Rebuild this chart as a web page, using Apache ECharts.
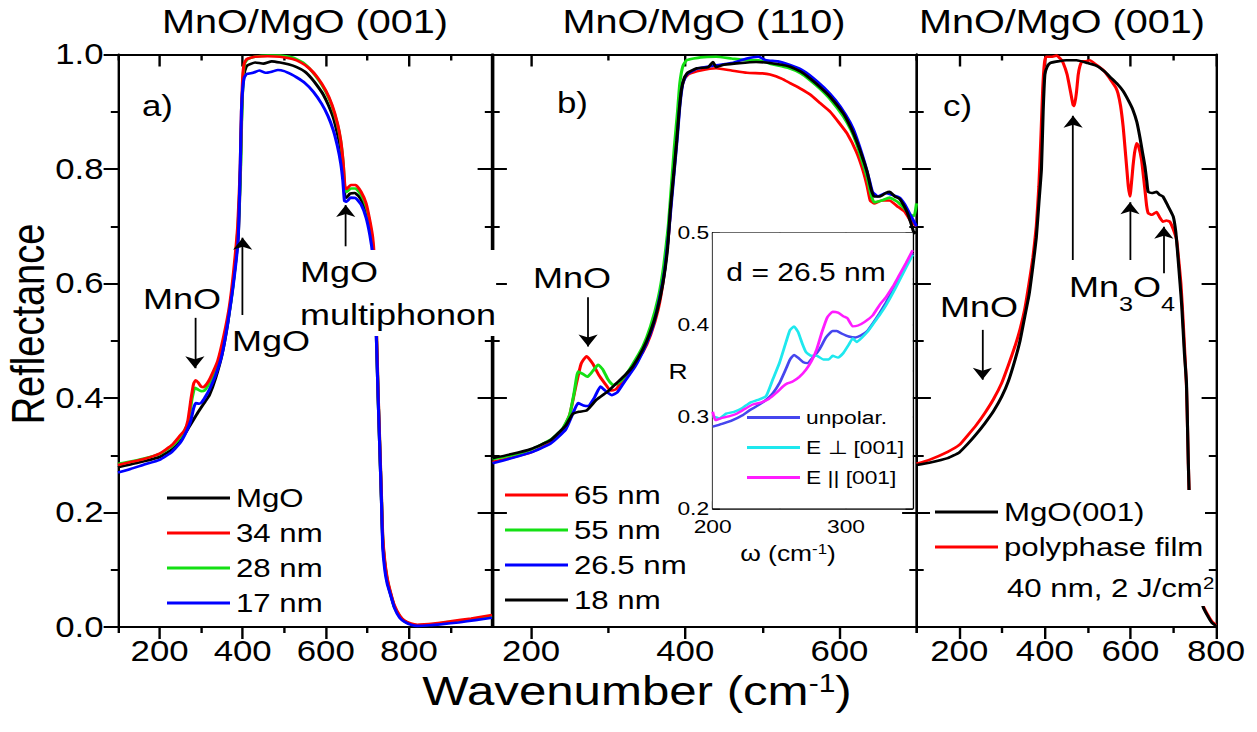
<!DOCTYPE html>
<html>
<head>
<meta charset="utf-8">
<script src="https://cdn.jsdelivr.net/npm/echarts@6/dist/echarts.min.js"></script>
<style>
  html, body { margin: 0; padding: 0; background: #fff; overflow: hidden; }
  #wrap { width: 1257px; height: 732px; overflow: hidden; }
  /* the figure is laid out in a narrower frame and widened horizontally */
  #chart { width: 1047.5px; height: 732px; transform: scaleX(1.2); transform-origin: 0 0; }
</style>
</head>
<body>
<div id="wrap"><div id="chart"></div></div>
<script>
// ---------- tick values ----------
const yTicks = [0, 0.2, 0.4, 0.6, 0.8, 1.0];
const xMajorA = [200, 400, 600, 800];
const xMinorA = [100, 300, 500, 700, 900];
const xMajorB = [200, 400, 600];
const xMinorB = [300, 500, 700];
const xMajorC = [200, 400, 600, 800];
const xMinorC = [100, 300, 500, 700];
const xMajorIn = [200, 300];
const xMinorIn = [250];

// ---------- panel a: MnO/MgO (001), reflectance vs wavenumber ----------
const a_MgO = [[100,0.279],[130,0.284],[160,0.289],[200,0.297],[230,0.31],[250,0.325],[270,0.348],[290,0.372],[310,0.394],[320,0.405],[335,0.435],[350,0.475],[365,0.535],[377,0.6],[389,0.68],[394,0.78],[397,0.88],[400,0.94],[404,0.968],[410,0.98],[430,0.986],[450,0.984],[470,0.988],[490,0.986],[510,0.983],[530,0.978],[550,0.97],[565,0.959],[580,0.945],[594,0.93],[606,0.912],[618,0.89],[628,0.862],[636,0.835],[642,0.795],[646,0.752],[650,0.75],[658,0.757],[670,0.758],[680,0.752],[690,0.74],[700,0.722],[708,0.69],[714,0.655],[718,0.6],[722,0.5],[726,0.4],[730,0.31],[734,0.22],[737,0.15],[742,0.11],[748,0.08],[755,0.06],[765,0.035],[778,0.018],[790,0.01],[805,0.005],[820,0.003],[840,0.003],[860,0.004],[880,0.006],[900,0.008],[930,0.011],[960,0.014],[1000,0.018]];
const a_34nm = [[100,0.283],[130,0.288],[160,0.293],[200,0.303],[230,0.318],[250,0.335],[260,0.343],[268,0.36],[276,0.4],[282,0.425],[287,0.431],[293,0.427],[300,0.42],[306,0.419],[314,0.425],[322,0.435],[340,0.465],[355,0.51],[368,0.56],[378,0.62],[388,0.7],[394,0.8],[397,0.9],[400,0.96],[404,0.985],[410,0.992],[430,0.996],[460,0.997],[490,0.996],[520,0.992],[540,0.986],[560,0.976],[580,0.96],[600,0.937],[615,0.912],[628,0.88],[636,0.85],[642,0.81],[646,0.77],[650,0.765],[660,0.772],[672,0.772],[685,0.76],[697,0.74],[706,0.71],[713,0.68],[717,0.64],[722,0.52],[726,0.41],[730,0.32],[734,0.23],[737,0.16],[742,0.115],[748,0.085],[755,0.063],[765,0.038],[778,0.02],[790,0.011],[805,0.006],[820,0.004],[860,0.006],[900,0.01],[950,0.015],[1000,0.021]];
const a_28nm = [[100,0.285],[130,0.289],[160,0.294],[200,0.302],[230,0.316],[250,0.332],[262,0.346],[270,0.36],[278,0.398],[285,0.418],[292,0.415],[300,0.412],[308,0.413],[316,0.421],[330,0.44],[345,0.47],[360,0.52],[372,0.57],[380,0.62],[389,0.7],[395,0.8],[398,0.9],[401,0.96],[405,0.985],[412,0.992],[430,0.996],[460,0.998],[490,0.998],[520,0.995],[545,0.986],[565,0.972],[585,0.953],[600,0.935],[615,0.91],[628,0.878],[636,0.848],[642,0.81],[646,0.765],[650,0.76],[660,0.766],[672,0.766],[685,0.755],[697,0.735],[706,0.705],[713,0.67],[718,0.62],[722,0.51],[726,0.405],[730,0.315],[734,0.225],[737,0.155],[742,0.112],[748,0.082],[755,0.061],[765,0.036],[778,0.019],[790,0.01],[805,0.005],[820,0.003],[860,0.005],[900,0.009],[950,0.013],[1000,0.019]];
const a_17nm = [[100,0.27],[130,0.276],[160,0.283],[200,0.292],[230,0.306],[250,0.322],[265,0.342],[275,0.36],[282,0.382],[287,0.391],[295,0.39],[302,0.393],[310,0.402],[320,0.415],[335,0.44],[350,0.475],[365,0.535],[377,0.595],[389,0.676],[394,0.8],[397,0.9],[400,0.94],[404,0.96],[410,0.966],[425,0.968],[440,0.972],[455,0.968],[470,0.97],[485,0.973],[500,0.971],[515,0.966],[530,0.96],[550,0.95],[570,0.935],[590,0.914],[605,0.893],[618,0.868],[628,0.84],[636,0.81],[641,0.78],[645,0.744],[650,0.743],[660,0.75],[672,0.749],[685,0.738],[697,0.715],[706,0.685],[713,0.65],[718,0.6],[722,0.5],[726,0.4],[730,0.31],[734,0.22],[737,0.14],[742,0.1],[748,0.075],[755,0.058],[765,0.034],[778,0.016],[790,0.009],[805,0.004],[820,0.002],[850,0.003],[880,0.005],[920,0.008],[960,0.012],[1000,0.016]];

// ---------- panel b: MnO/MgO (110) ----------
const b_65nm = [[150,0.288],[175,0.296],[200,0.305],[225,0.322],[240,0.342],[250,0.37],[258,0.42],[265,0.46],[272,0.473],[280,0.46],[288,0.44],[296,0.425],[303,0.413],[310,0.415],[318,0.43],[330,0.452],[345,0.48],[355,0.51],[365,0.555],[372,0.61],[378,0.68],[382,0.75],[386,0.82],[390,0.88],[394,0.935],[399,0.958],[405,0.966],[420,0.972],[440,0.976],[460,0.972],[480,0.968],[500,0.967],[510,0.965],[525,0.958],[536,0.95],[550,0.94],[562,0.93],[575,0.915],[588,0.9],[600,0.88],[610,0.862],[622,0.83],[630,0.8],[636,0.77],[640,0.745],[645,0.74],[655,0.745],[665,0.745],[675,0.735],[685,0.725],[692,0.71],[700,0.7]];
const b_55nm = [[150,0.293],[175,0.3],[200,0.31],[225,0.327],[240,0.345],[250,0.37],[256,0.41],[261,0.446],[267,0.442],[273,0.437],[280,0.447],[287,0.458],[293,0.45],[300,0.432],[306,0.423],[312,0.425],[320,0.435],[330,0.455],[345,0.49],[355,0.525],[365,0.575],[372,0.63],[378,0.7],[382,0.77],[386,0.84],[390,0.9],[393,0.95],[397,0.98],[402,0.99],[420,0.995],[440,0.996],[460,0.993],[480,0.99],[495,0.99],[510,0.984],[535,0.976],[550,0.967],[562,0.955],[575,0.94],[588,0.922],[605,0.892],[615,0.868],[622,0.845],[630,0.812],[636,0.785],[641,0.755],[645,0.742],[655,0.745],[665,0.75],[675,0.743],[685,0.73],[692,0.72],[697,0.718],[700,0.74]];
const b_26nm = [[150,0.286],[175,0.295],[200,0.305],[225,0.32],[245,0.345],[254,0.372],[261,0.391],[268,0.387],[274,0.386],[282,0.4],[290,0.42],[297,0.412],[305,0.405],[312,0.41],[322,0.43],[335,0.455],[348,0.49],[358,0.525],[366,0.57],[373,0.62],[378,0.68],[382,0.74],[386,0.8],[390,0.86],[393,0.91],[397,0.95],[402,0.965],[415,0.975],[435,0.98],[460,0.985],[480,0.993],[495,0.996],[505,0.99],[520,0.988],[535,0.982],[550,0.974],[565,0.96],[580,0.942],[595,0.92],[608,0.895],[618,0.87],[626,0.84],[633,0.81],[639,0.78],[643,0.76],[650,0.752],[660,0.758],[668,0.755],[678,0.75],[685,0.738],[692,0.72],[700,0.7]];
const b_18nm = [[150,0.295],[175,0.302],[200,0.311],[225,0.326],[245,0.352],[254,0.372],[262,0.376],[272,0.378],[285,0.397],[300,0.412],[311,0.426],[322,0.44],[332,0.455],[345,0.485],[354,0.513],[363,0.55],[371,0.6],[377,0.66],[381,0.734],[385,0.79],[389,0.85],[392,0.9],[395,0.938],[399,0.96],[403,0.968],[415,0.976],[430,0.978],[436,0.987],[440,0.978],[450,0.982],[470,0.985],[492,0.987],[510,0.985],[535,0.979],[550,0.97],[562,0.958],[575,0.943],[588,0.926],[605,0.897],[615,0.872],[622,0.85],[630,0.82],[636,0.795],[641,0.765],[645,0.752],[652,0.752],[660,0.758],[665,0.76],[672,0.752],[678,0.748],[682,0.74],[686,0.73],[690,0.717],[694,0.7],[697,0.688],[700,0.69]];

// ---------- inset: d = 26.5 nm, polarisation ----------
const in_unpol = [[200,0.289],[207,0.292],[215,0.296],[222,0.301],[228,0.307],[234,0.312],[240,0.318],[245,0.325],[250,0.336],[255,0.352],[258,0.362],[261,0.367],[264,0.364],[268,0.359],[271,0.358],[275,0.364],[280,0.373],[285,0.386],[290,0.393],[293,0.393],[297,0.39],[302,0.387],[307,0.386],[311,0.388],[316,0.393],[320,0.401],[325,0.412],[330,0.424],[335,0.437],[340,0.45],[345,0.464],[350,0.478]];
const in_perp = [[200,0.3],[205,0.298],[210,0.303],[216,0.305],[222,0.309],[228,0.315],[234,0.318],[240,0.322],[245,0.34],[250,0.358],[255,0.381],[258,0.394],[261,0.398],[264,0.392],[267,0.38],[270,0.37],[274,0.366],[278,0.366],[283,0.362],[287,0.362],[290,0.366],[294,0.364],[298,0.369],[302,0.378],[305,0.385],[308,0.381],[312,0.386],[316,0.392],[320,0.4],[325,0.41],[330,0.421],[335,0.434],[340,0.448],[345,0.462],[350,0.476]];
const in_par = [[200,0.305],[202,0.296],[206,0.298],[212,0.3],[218,0.303],[224,0.308],[230,0.313],[236,0.315],[242,0.319],[248,0.326],[253,0.333],[256,0.336],[260,0.338],[265,0.343],[270,0.351],[274,0.36],[278,0.373],[282,0.392],[286,0.408],[290,0.414],[294,0.413],[298,0.409],[301,0.407],[305,0.398],[309,0.399],[314,0.403],[320,0.41],[325,0.421],[330,0.43],[335,0.441],[340,0.454],[345,0.467],[350,0.481]];

// ---------- panel c: MnO/MgO (001), polyphase film ----------
const c_MgO = [[100,0.283],[130,0.287],[173,0.295],[200,0.305],[220,0.32],[240,0.337],[260,0.356],[280,0.377],[299,0.402],[315,0.43],[330,0.466],[342,0.5],[353,0.542],[363,0.58],[372,0.63],[380,0.68],[386,0.74],[392,0.8],[396,0.9],[400,0.965],[405,0.978],[412,0.985],[430,0.988],[450,0.99],[474,0.99],[500,0.985],[521,0.98],[540,0.97],[552,0.961],[570,0.948],[583,0.936],[595,0.92],[606,0.903],[615,0.882],[622,0.856],[628,0.83],[634,0.804],[638,0.78],[641.5,0.76],[650,0.758],[661,0.76],[668,0.755],[676,0.752],[688,0.735],[700,0.717],[706,0.69],[711,0.647],[716,0.6],[720,0.56],[726,0.48],[731,0.426],[734,0.33],[737,0.24],[745,0.16],[755,0.1],[770,0.035],[780,0.02],[790,0.008],[800,0.002]];
const c_film = [[100,0.285],[130,0.292],[173,0.306],[200,0.318],[220,0.335],[240,0.353],[260,0.374],[280,0.398],[299,0.426],[315,0.458],[330,0.49],[342,0.52],[353,0.555],[363,0.6],[372,0.645],[380,0.7],[386,0.77],[391,0.86],[395,0.94],[399,0.985],[403,0.996],[415,0.996],[427,0.998],[437,0.992],[443,0.985],[452,0.965],[460,0.935],[466,0.912],[469,0.91],[474,0.935],[478,0.965],[482,0.98],[487,0.988],[495,0.988],[505,0.99],[520,0.982],[536,0.973],[548,0.962],[559,0.95],[566,0.942],[571,0.932],[577,0.91],[583,0.874],[587,0.84],[591,0.805],[595,0.77],[599,0.752],[603,0.78],[606,0.805],[610,0.83],[614.5,0.845],[619,0.84],[626,0.816],[630,0.79],[634,0.763],[638,0.735],[641.5,0.723],[650,0.72],[661,0.725],[668,0.716],[676,0.708],[684,0.71],[692,0.708],[700,0.695],[708,0.676],[713,0.64],[718,0.6],[722,0.55],[727,0.48],[731,0.42],[734,0.33],[737,0.24],[745,0.16],[755,0.1],[770,0.037],[780,0.022],[790,0.01],[800,0.003]];

// ---------- annotation arrows [x, tail R, head R] ----------
const arrowsA = [[285, 0.54, 0.452], [400, 0.545, 0.68], [648, 0.665, 0.737]];
const arrowsB = [[274, 0.576, 0.49]];
const arrowsC = [[254, 0.519, 0.432], [466, 0.641, 0.893], [599, 0.641, 0.742], [678, 0.618, 0.699]];

// ---------- layout helpers ----------
const S = 1.2;                      // horizontal widening of the frame
const X = px => px / S;             // final-pixel x -> frame x
const FONT = '"Liberation Sans", Arial, Helvetica, sans-serif';
const BLACK = '#000';

const chart = echarts.init(document.getElementById('chart'), null, { renderer: 'svg' });

function xAxes(gi, min, max, major, minor, o) {
  const line = { lineStyle: { color: BLACK, width: o.lw } };
  const tickStyle = { color: BLACK, width: o.lw };
  const common = { gridIndex: gi, type: 'value', min: min, max: max, splitLine: { show: false } };
  return [
    Object.assign({}, common, {
      position: 'bottom',
      axisLine: Object.assign({ show: true, onZero: false }, line),
      axisTick: { show: true, inside: o.inside, length: o.major, customValues: major, lineStyle: tickStyle },
      axisLabel: { show: true, customValues: major, margin: o.margin, fontSize: o.fs, color: BLACK, fontFamily: FONT }
    }),
    Object.assign({}, common, {
      position: 'bottom',
      axisLine: { show: false, onZero: false },
      axisTick: { show: true, inside: o.inside, length: o.minor, customValues: minor, lineStyle: tickStyle },
      axisLabel: { show: false }
    }),
    Object.assign({}, common, {
      position: 'top',
      axisLine: Object.assign({ show: true, onZero: false }, line),
      axisTick: { show: true, inside: true, length: o.major, customValues: major, lineStyle: tickStyle },
      axisLabel: { show: false }
    }),
    Object.assign({}, common, {
      position: 'top',
      axisLine: { show: false, onZero: false },
      axisTick: { show: true, inside: true, length: o.minor, customValues: minor, lineStyle: tickStyle },
      axisLabel: { show: false }
    })
  ];
}

function yAxes(gi, min, max, interval, o) {
  const line = { lineStyle: { color: BLACK, width: o.lw } };
  const tickStyle = { color: BLACK, width: o.lw };
  const common = { gridIndex: gi, type: 'value', min: min, max: max, interval: interval,
                   splitLine: { show: false }, minorSplitLine: { show: false } };
  return [
    Object.assign({}, common, {
      position: 'left',
      axisLine: Object.assign({ show: true, onZero: false }, line),
      axisTick: { show: true, inside: o.leftInside, length: o.major, lineStyle: tickStyle },
      minorTick: { show: true, splitNumber: 2, length: o.minor, lineStyle: tickStyle },
      axisLabel: { show: o.labels, margin: o.margin, fontSize: o.fs, color: BLACK, fontFamily: FONT,
                   formatter: v => v.toFixed(1) }
    }),
    Object.assign({}, common, {
      position: 'right',
      axisLine: Object.assign({ show: true, onZero: false }, line),
      axisTick: { show: true, inside: true, length: o.major, lineStyle: tickStyle },
      minorTick: { show: true, splitNumber: 2, length: o.minor, lineStyle: tickStyle },
      axisLabel: { show: false }
    })
  ];
}

const mainX = { lw: 2, inside: false, major: 12, minor: 6, margin: 10, fs: 29 };
const insetX = { lw: 1.5, inside: true, major: 7, minor: 7, margin: 8, fs: 19 };

const xAxis = [].concat(
  xAxes(0, 100, 1000, xMajorA, xMinorA, mainX),
  xAxes(1, 150, 700, xMajorB, xMinorB, mainX),
  xAxes(2, 100, 800, xMajorC, xMinorC, mainX),
  xAxes(3, 200, 350, xMajorIn, xMinorIn, insetX)
);
const yAxis = [].concat(
  yAxes(0, yTicks[0], yTicks[yTicks.length - 1], 0.2, { lw: 2, leftInside: false, major: 12, minor: 6, margin: 12, fs: 29, labels: true }),
  yAxes(1, 0, 1, 0.2, { lw: 2, leftInside: true, major: 12, minor: 6, margin: 12, fs: 29, labels: false }),
  yAxes(2, 0, 1, 0.2, { lw: 2, leftInside: true, major: 12, minor: 6, margin: 12, fs: 29, labels: false }),
  yAxes(3, 0.2, 0.5, 0.1, { lw: 1.5, leftInside: true, major: 6, minor: 6, margin: 3, fs: 19, labels: true })
);

function arrowLines(list) {
  return {
    silent: true,
    symbol: ['none', 'arrow'],
    symbolSize: 12,
    lineStyle: { color: BLACK, width: 1.5, type: 'solid' },
    label: { show: false },
    emphasis: { disabled: true },
    animation: false,
    data: list.map(a => [{ coord: [a[0], a[1]] }, { coord: [a[0], a[2]] }])
  };
}

function line(name, data, color, gi, width, extra) {
  return Object.assign({
    type: 'line', name: name, data: data,
    xAxisIndex: gi * 4, yAxisIndex: gi * 2,
    showSymbol: false, symbol: 'none', smooth: 0.15,
    lineStyle: { color: color, width: width },
    itemStyle: { color: color },
    emphasis: { disabled: true },
    animation: false, z: 2
  }, extra || {});
}

const RED = '#ff0000', GREEN = '#14e014', BLUE = '#0000ff';

const series = [
  line('MgO', a_MgO, BLACK, 0, 2.6, { markLine: arrowLines(arrowsA) }),
  line('28 nm', a_28nm, GREEN, 0, 2.6),
  line('34 nm', a_34nm, RED, 0, 2.6),
  line('17 nm', a_17nm, BLUE, 0, 2.6),

  line('65 nm', b_65nm, RED, 1, 2.6, { markLine: arrowLines(arrowsB) }),
  line('55 nm', b_55nm, GREEN, 1, 2.6),
  line('26.5 nm', b_26nm, BLUE, 1, 2.6),
  line('18 nm', b_18nm, BLACK, 1, 2.6),

  line('polyphase film', c_film, RED, 2, 2.6, { markLine: arrowLines(arrowsC) }),
  line('MgO(001)', c_MgO, BLACK, 2, 2.6),

  line('unpolar.', in_unpol, '#4646ee', 3, 2.4, { z: 6 }),
  line('E \u22A5 [001]', in_perp, '#1ee8ee', 3, 2.4, { z: 6 }),
  line('E || [001]', in_par, '#ff1cff', 3, 2.4, { z: 6 })
];

function legend(names, left, top, o) {
  return {
    data: names, orient: 'vertical', left: left, top: top, padding: 0,
    icon: 'rect', itemWidth: o.w, itemHeight: 3, itemGap: o.gap,
    selectedMode: false, z: 6,
    textStyle: { fontSize: o.fs, lineHeight: o.fs, color: BLACK, fontFamily: FONT }
  };
}

function txt(text, x, y, fs, extra, styleExtra) {
  return Object.assign({
    type: 'text', x: X(x), y: y, z: 8, silent: true,
    style: Object.assign({
      text: text, fill: BLACK, fontSize: fs, fontFamily: FONT,
      align: 'left', textAlign: 'left', verticalAlign: 'middle', textVerticalAlign: 'middle'
    }, styleExtra || {})
  }, extra || {});
}

const graphic = [
  // white box behind the panel c legend
  { type: 'rect', z: 3, silent: true, shape: { x: X(930), y: 490, width: X(275), height: 116 }, style: { fill: '#fff' } },

  // panel titles
  txt('MnO/MgO (001)', 305, 22, 33, null, { align: 'center', textAlign: 'center' }),
  txt('MnO/MgO (110)', 704, 22, 33, null, { align: 'center', textAlign: 'center' }),
  txt('MnO/MgO (001)', 1062, 22, 33, null, { align: 'center', textAlign: 'center' }),

  // axis titles
  txt('Reflectance', 28, 324, 38, { rotation: Math.PI / 2 }, { align: 'center', textAlign: 'center' }),
  txt('Wavenumber (cm{sup|-1})', 637, 691, 41, null, {
    align: 'center', textAlign: 'center',
    rich: { sup: { fontSize: 25, fontFamily: FONT, verticalAlign: 'top', lineHeight: 25 } }
  }),

  // panel letters
  txt('a)', 142, 106, 29),
  txt('b)', 557, 103, 29),
  txt('c)', 943, 106, 29),

  // panel a notes
  txt('MnO', 143, 299, 30),
  txt('MgO', 232, 341, 30, { z: 10 }),
  txt('MgO\nmultiphonon', 300, 250, 30, { z: 9 },
      { verticalAlign: 'top', textVerticalAlign: 'top', lineHeight: 43, backgroundColor: '#fff' }),

  // panel b notes
  txt('MnO', 533, 278, 30),

  // panel c notes: MnO, and Mn3O4 written as main glyphs with lowered indices
  txt('MnO', 940, 307, 30),
  txt('Mn', 1069, 287, 30),
  txt('3', 1119, 304, 21),
  txt('O', 1133, 287, 30),
  txt('4', 1161, 304, 21),
  txt('40 nm, 2 J/cm{sup|2}', 1007, 588, 26, { z: 8 }, {
    rich: { sup: { fontSize: 17, fontFamily: FONT, verticalAlign: 'top', lineHeight: 17 } }
  }),

  // inset texts
  txt('d = 26.5 nm', 806, 272, 25, null, { align: 'center', textAlign: 'center' }),
  txt('R', 678, 371, 22, null, { align: 'center', textAlign: 'center' }),
  txt('\u03C9 (cm{sup|-1})', 788, 553, 22, null, {
    align: 'center', textAlign: 'center',
    rich: { sup: { fontSize: 14, fontFamily: FONT, verticalAlign: 'top', lineHeight: 14 } }
  })
];

chart.setOption({
  backgroundColor: '#fff',
  animation: false,
  grid: [
    { left: X(118), top: 54.5, width: X(374), height: 572.5 },
    { left: X(492.5), top: 54.5, width: X(424), height: 572.5 },
    { left: X(916.5), top: 54.5, width: X(299.5), height: 572.5 },
    { left: X(712.7), top: 232.7, width: X(200), height: 275.6, show: true, backgroundColor: '#fff', borderWidth: 0, z: 3 }
  ],
  xAxis: xAxis,
  yAxis: yAxis,
  legend: [
    legend(['MgO', '34 nm', '28 nm', '17 nm'], X(167), 485, { w: X(63), gap: 9, fs: 26 }),
    legend(['65 nm', '55 nm', '26.5 nm', '18 nm'], X(505), 482, { w: X(63), gap: 9, fs: 26 }),
    legend(['MgO(001)', 'polyphase film'], X(935), 499, { w: X(63), gap: 9, fs: 26 }),
    legend(['unpolar.', 'E \u22A5 [001]', 'E || [001]'], X(747), 408, { w: X(53), gap: 11, fs: 19 })
  ],
  series: series,
  graphic: graphic
});
</script>
</body>
</html>
